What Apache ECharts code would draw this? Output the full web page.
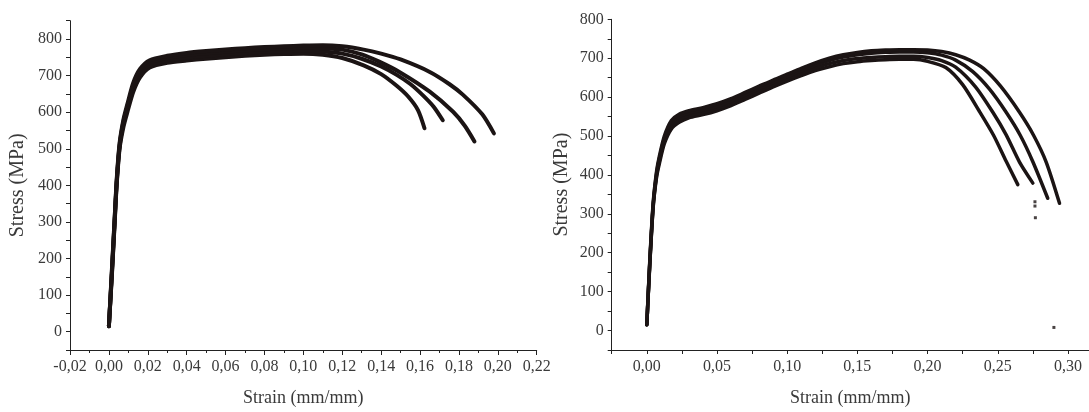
<!DOCTYPE html>
<html>
<head>
<meta charset="utf-8">
<script src="https://cdn.jsdelivr.net/npm/echarts@6/dist/echarts.min.js"></script>
<style>
html,body{margin:0;padding:0;background:#fff;}
#c{width:1089px;height:412px;}
</style>
</head>
<body>
<div id="c"></div>
<script>
// ---------- Left panel data (strain mm/mm, stress MPa) ----------
const leftStrainA = [0,0.0015,0.003,0.004,0.0055,0.0075,0.0095,0.0125,0.016,0.021,0.03,0.04,0.05,0.06,0.07,0.08,0.09,0.10,0.11,0.12,0.131,0.14,0.148,0.154,0.159,0.1623];
const leftStressA = [15,150,300,400,500,560,600,655,695,722,735,741,746,750,754,757,759,760,757,748,728,704,672,642,605,556];
const leftStrainB = [0,0.0015,0.003,0.004,0.0055,0.0075,0.0095,0.0125,0.016,0.021,0.03,0.04,0.05,0.06,0.07,0.08,0.09,0.10,0.11,0.12,0.13,0.14,0.148,0.155,0.1615,0.167,0.1717];
const leftStressB = [15,155,305,405,505,570,610,665,705,730,742,749,754,758,762,765,767,768,766,760,746,725,702,677,646,615,578];
const leftStrainC = [0,0.0015,0.003,0.004,0.0055,0.0075,0.0095,0.0125,0.016,0.021,0.03,0.04,0.05,0.06,0.07,0.08,0.09,0.10,0.11,0.12,0.13,0.139,0.15,0.165,0.177,0.183,0.188];
const leftStressC = [15,160,310,410,510,575,615,672,712,736,748,756,761,765,769,772,774,776,775,771,758,738,708,656,601,563,520];
const leftStrainD = [0,0.0015,0.003,0.004,0.0055,0.0075,0.0095,0.0125,0.016,0.021,0.03,0.04,0.05,0.06,0.07,0.08,0.09,0.10,0.11,0.12,0.131,0.14,0.15,0.165,0.175,0.182,0.192,0.198];
const leftStressD = [15,165,315,415,515,580,622,680,718,742,754,762,767,771,775,778,780,782,783,780,771,760,744,710,677,648,594,542];

// ---------- Right panel data ----------
const rightStrain1 = [0,0.002,0.0045,0.007,0.009,0.0125,0.0175,0.023,0.03,0.04,0.05,0.06,0.07,0.08,0.09,0.10,0.11,0.12,0.13,0.14,0.15,0.16,0.17,0.18,0.19,0.20,0.213,0.225,0.237,0.247,0.256,0.2643];
const rightStress1 = [15,160,315,395,430,480,518,535,547,555,565,578,594,610,626,641,655,668,678,686,691,694,696,697,697,692,676,632,563,502,435,375];
const rightStrain2 = [0,0.002,0.0045,0.007,0.009,0.0125,0.0175,0.023,0.03,0.04,0.05,0.06,0.07,0.08,0.09,0.10,0.11,0.12,0.13,0.14,0.15,0.16,0.17,0.18,0.19,0.20,0.21,0.22,0.234,0.2465,0.256,0.2655,0.275];
const rightStress2 = [15,163,318,400,437,487,525,543,553,561,571,584,600,616,632,647,661,675,686,694,699,702,704,705,705,702,694,677,627,561,503,433,379];
const rightStrain3 = [0,0.002,0.0045,0.007,0.009,0.0125,0.0175,0.023,0.03,0.04,0.05,0.06,0.07,0.08,0.09,0.10,0.11,0.12,0.13,0.14,0.15,0.16,0.17,0.18,0.19,0.20,0.21,0.22,0.232,0.244,0.256,0.266,0.275,0.2856];
const rightStress3 = [15,166,322,405,443,494,532,550,559,567,577,590,606,622,638,653,668,682,694,703,709,713,715,716,716,714,708,695,666,621,561,502,434,340];
const rightStrain4 = [0,0.002,0.0045,0.007,0.009,0.0125,0.0175,0.023,0.03,0.04,0.05,0.06,0.07,0.08,0.09,0.10,0.11,0.12,0.13,0.14,0.15,0.16,0.17,0.18,0.19,0.20,0.21,0.22,0.23,0.24,0.252,0.2655,0.2755,0.2845,0.294];
const rightStress4 = [15,170,326,410,449,500,540,556,565,573,583,596,612,628,644,659,674,688,700,709,715,719,721,722,722,721,717,709,695,673,628,561,502,433,327];
const rightStrayStrain = [0.2765,0.2765,0.2768,0.2900];
const rightStrayStress = [331,320,290,8];

// ---------- Tick labels ----------
const leftYTicks = [0,100,200,300,400,500,600,700,800];
const rightYTicks = [0,100,200,300,400,500,600,700,800];
const rightXTicks = [0,0.05,0.10,0.15,0.20,0.25,0.30];

function pairs(xs, ys){ return xs.map((x,i)=>[x, ys[i]]); }
const fmtComma = v => (Math.abs(v) < 1e-9 ? 0 : v).toFixed(2).replace('.', ',');

const FONT = 'Liberation Serif';
const INK = '#1b1414';
const AXIS = '#222';
const TXT = '#3a3a3a';

function lineSeries(xIdx, yIdx, data, w){
  return {type:'line', xAxisIndex:xIdx, yAxisIndex:yIdx, data:data, showSymbol:false, symbol:'none',
    smooth:0.25, lineStyle:{color:INK, width:w, join:'round', cap:'round'}, silent:true, animation:false};
}

const chart = echarts.init(document.getElementById('c'), null, {renderer:'canvas'});
const baseAxisLine = {show:true, onZero:false, lineStyle:{color:AXIS, width:1}};

chart.setOption({
  backgroundColor:'#ffffff',
  animation:false,
  grid:[
    {left:70, top:20.7, width:466.7, height:332.6, containLabel:false},
    {left:611.7, top:19.3, width:477.3, height:331.4, containLabel:false}
  ],
  xAxis:[
    {gridIndex:0, type:'value', position:'bottom', min:-0.02, max:0.22, interval:0.02,
     axisLine:baseAxisLine, splitLine:{show:false},
     axisTick:{show:true, inside:false, length:5, lineStyle:{color:AXIS}},
     minorTick:{show:true, splitNumber:2, length:3, lineStyle:{color:AXIS}},
     axisLabel:{formatter:fmtComma, color:TXT, fontFamily:FONT, fontSize:16, margin:9},
     name:'Strain (mm/mm)', nameLocation:'middle', nameGap:39,
     nameTextStyle:{color:TXT, fontFamily:FONT, fontSize:18}},
    {gridIndex:1, type:'value', position:'bottom', min:-0.025, max:0.315, interval:0.025,
     axisLine:baseAxisLine, splitLine:{show:false},
     axisTick:{show:true, inside:false, length:4, lineStyle:{color:AXIS}},
     axisLabel:{customValues:rightXTicks, formatter:fmtComma, color:TXT, fontFamily:FONT, fontSize:16, margin:9},
     name:'Strain (mm/mm)', nameLocation:'middle', nameGap:39,
     nameTextStyle:{color:TXT, fontFamily:FONT, fontSize:18}}
  ],
  yAxis:[
    {gridIndex:0, type:'value', position:'left', min:-50, max:850, interval:50,
     axisLine:baseAxisLine, splitLine:{show:false},
     axisTick:{show:true, inside:false, length:4, lineStyle:{color:AXIS}},
     axisLabel:{customValues:leftYTicks, color:TXT, fontFamily:FONT, fontSize:16, margin:8},
     name:'Stress (MPa)', nameLocation:'middle', nameGap:42,
     nameTextStyle:{color:TXT, fontFamily:FONT, fontSize:20}},
    {gridIndex:1, type:'value', position:'left', min:-50, max:800, interval:50,
     axisLine:baseAxisLine, splitLine:{show:false},
     axisTick:{show:true, inside:false, length:4, lineStyle:{color:AXIS}},
     axisLabel:{customValues:rightYTicks, color:TXT, fontFamily:FONT, fontSize:16, margin:8},
     name:'Stress (MPa)', nameLocation:'middle', nameGap:40,
     nameTextStyle:{color:TXT, fontFamily:FONT, fontSize:20}}
  ],
  series:[
    lineSeries(0,0,pairs(leftStrainA,leftStressA),4),
    lineSeries(0,0,pairs(leftStrainB,leftStressB),4),
    lineSeries(0,0,pairs(leftStrainC,leftStressC),4),
    lineSeries(0,0,pairs(leftStrainD,leftStressD),4),
    lineSeries(1,1,pairs(rightStrain1,rightStress1),3.5),
    lineSeries(1,1,pairs(rightStrain2,rightStress2),3.5),
    lineSeries(1,1,pairs(rightStrain3,rightStress3),3.5),
    lineSeries(1,1,pairs(rightStrain4,rightStress4),3.5),
    {type:'scatter', xAxisIndex:1, yAxisIndex:1, data:pairs(rightStrayStrain,rightStrayStress),
     symbol:'rect', symbolSize:3, itemStyle:{color:INK}, silent:true, animation:false}
  ]
});
</script>
</body>
</html>
